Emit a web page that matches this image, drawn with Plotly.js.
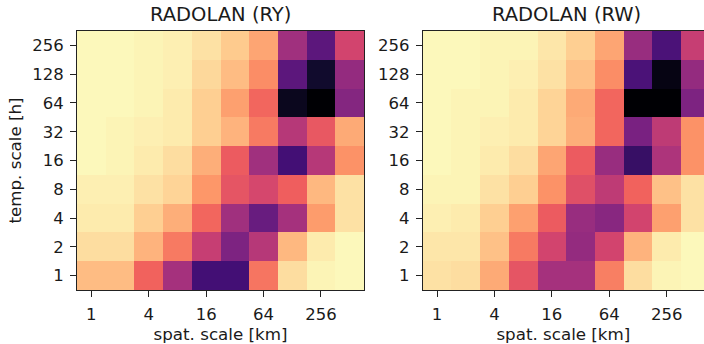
<!DOCTYPE html>
<html>
<head>
<meta charset="utf-8">
<script src="https://cdn.plot.ly/plotly-3.0.1.min.js"></script>
<style>html,body{margin:0;padding:0;background:#fff;}#chart{width:704px;height:344px;}</style>
</head>
<body>
<div id="chart"></div>
<script>
// spatial scales [km] (columns) and temporal scales [h] (rows)
const spatScales = ['1','2','4','8','16','32','64','128','256','512'];
const tempScales = ['1','2','4','8','16','32','64','128','256'];
const xTickVals = ['1','4','16','64','256'];
const yTickVals = ['1','2','4','8','16','32','64','128','256'];

// normalised values, rows from temp. scale 1 h (bottom) to 256 h (top)
const ryValues = [
  [0.86, 0.86, 0.67, 0.46, 0.22, 0.22, 0.71, 0.93, 0.98, 0.99],
  [0.93, 0.93, 0.84, 0.72, 0.54, 0.36, 0.50, 0.85, 0.96, 0.99],
  [0.96, 0.96, 0.90, 0.83, 0.68, 0.45, 0.31, 0.46, 0.79, 0.94],
  [0.97, 0.97, 0.94, 0.91, 0.78, 0.63, 0.58, 0.66, 0.85, 0.94],
  [0.99, 0.98, 0.96, 0.93, 0.83, 0.65, 0.45, 0.22, 0.50, 0.77],
  [0.99, 0.98, 0.97, 0.96, 0.90, 0.84, 0.72, 0.50, 0.64, 0.82],
  [0.99, 0.99, 0.98, 0.96, 0.90, 0.80, 0.68, 0.05, 0.00, 0.38],
  [0.99, 0.99, 0.98, 0.97, 0.92, 0.86, 0.76, 0.28, 0.08, 0.42],
  [0.99, 0.99, 0.98, 0.97, 0.94, 0.89, 0.81, 0.45, 0.28, 0.57]
];
const rwValues = [
  [0.94, 0.93, 0.82, 0.63, 0.46, 0.46, 0.73, 0.93, 0.98, 0.99],
  [0.95, 0.95, 0.87, 0.72, 0.57, 0.42, 0.57, 0.84, 0.96, 0.99],
  [0.97, 0.96, 0.90, 0.80, 0.65, 0.43, 0.39, 0.57, 0.80, 0.94],
  [0.98, 0.98, 0.94, 0.90, 0.77, 0.61, 0.52, 0.67, 0.87, 0.94],
  [0.99, 0.98, 0.96, 0.93, 0.81, 0.65, 0.43, 0.19, 0.48, 0.77],
  [0.99, 0.98, 0.97, 0.96, 0.91, 0.83, 0.68, 0.35, 0.52, 0.77],
  [0.99, 0.98, 0.98, 0.96, 0.91, 0.82, 0.68, 0.00, 0.00, 0.36],
  [0.99, 0.99, 0.98, 0.97, 0.94, 0.87, 0.76, 0.24, 0.03, 0.42],
  [0.99, 0.99, 0.98, 0.98, 0.95, 0.90, 0.81, 0.43, 0.24, 0.54]
];

const magmaColors = ['#000004','#180f3d','#440f76','#721f81','#9e2f7f','#cd4071','#f1605d','#fd9668','#feca8d','#fcfdbf'];
const magma = magmaColors.map((c, i) => [i / (magmaColors.length - 1), c]);

const font = 'DejaVu Sans, sans-serif';
const txt = '#1a1a1a';
const tickSize = 16.5;
const labelSize = 16.7;
const titleSize = 19.5;

function hm(z, xa, ya) {
  return {type: 'heatmap', x: spatScales, y: tempScales, z: z, xaxis: xa, yaxis: ya,
          colorscale: magma, zmin: 0, zmax: 1, showscale: false, xgap: 0, ygap: 0,
          hoverinfo: 'skip'};
}

const axCommon = {
  type: 'category', showgrid: false, zeroline: false,
  showline: true, linecolor: '#222', linewidth: 1,
  ticks: 'outside', ticklen: 6, tickwidth: 1, tickcolor: '#222',
  tickfont: {family: font, size: tickSize, color: txt}
};

const yDom = [1 - 290/344, 1 - 31/344];

const layout = {
  width: 704, height: 344,
  margin: {l: 0, r: 0, t: 0, b: 0},
  paper_bgcolor: '#fff', plot_bgcolor: '#fff',
  showlegend: false,
  xaxis: Object.assign({}, axCommon, {domain: [77/704, 364/704], anchor: 'y', mirror: true,
    range: [-0.5, 9.5], tickmode: 'array', tickvals: xTickVals, ticktext: xTickVals,
    ticklabelstandoff: 3,
    title: {text: 'spat. scale [km]', font: {family: font, size: labelSize, color: txt}, standoff: 4}}),
  yaxis: Object.assign({}, axCommon, {domain: yDom, anchor: 'x', mirror: true,
    range: [-0.5, 8.5], tickmode: 'array', tickvals: yTickVals, ticktext: yTickVals,
    ticklabelstandoff: 3,
    title: {text: 'temp. scale [h]', font: {family: font, size: labelSize, color: txt}, standoff: 6}}),
  xaxis2: Object.assign({}, axCommon, {domain: [422.7/704, 1], anchor: 'y2', mirror: true,
    range: [-0.5, -0.5 + 281.3/28.7], tickmode: 'array', tickvals: xTickVals, ticktext: xTickVals,
    ticklabelstandoff: 3,
    title: {text: 'spat. scale [km]', font: {family: font, size: labelSize, color: txt}, standoff: 4}}),
  yaxis2: Object.assign({}, axCommon, {domain: yDom, anchor: 'x2', mirror: false,
    range: [-0.5, 8.5], tickmode: 'array', tickvals: yTickVals, ticktext: yTickVals,
    ticklabelstandoff: 3}),
  annotations: [
    {text: 'RADOLAN (RY)', xref: 'x domain', yref: 'paper', x: 0.5, y: 1 - 15/344,
     xanchor: 'center', yanchor: 'middle', showarrow: false,
     font: {family: font, size: titleSize, color: txt}},
    {text: 'RADOLAN (RW)', xref: 'x2 domain', yref: 'paper', x: 287/281.3*0.5, y: 1 - 15/344,
     xanchor: 'center', yanchor: 'middle', showarrow: false,
     font: {family: font, size: titleSize, color: txt}}
  ]
};

Plotly.newPlot('chart', [hm(ryValues, 'x', 'y'), hm(rwValues, 'x2', 'y2')], layout,
  {staticPlot: true, displayModeBar: false});
</script>
</body>
</html>
